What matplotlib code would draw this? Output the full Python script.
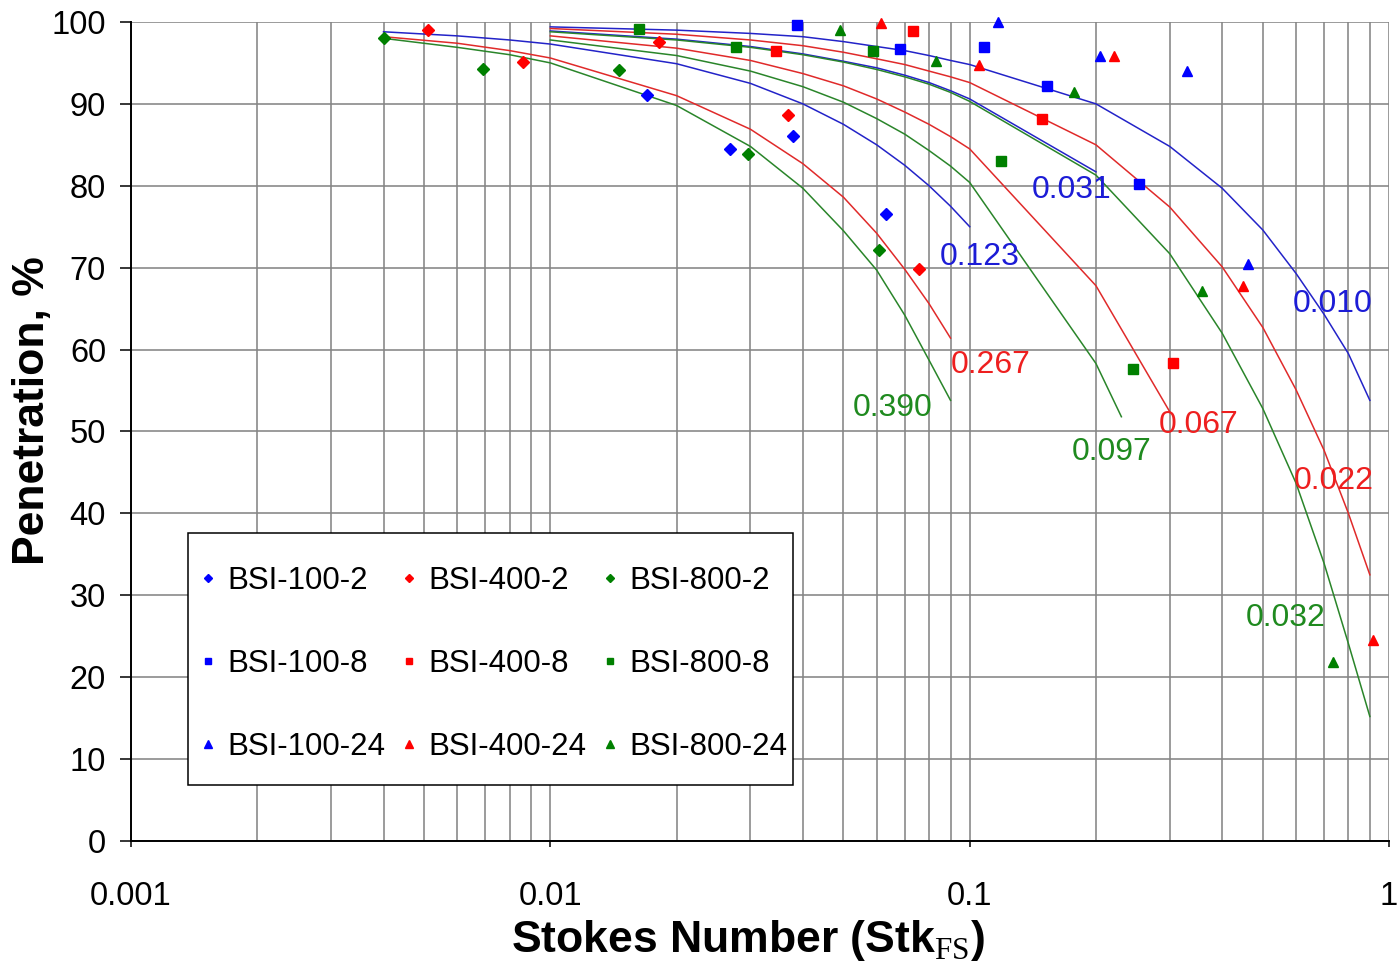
import matplotlib
matplotlib.use("Agg")
import matplotlib.pyplot as plt
from matplotlib.lines import Line2D
from matplotlib.patches import Rectangle
from matplotlib.ticker import NullFormatter, LogLocator

plt.rcParams["font.family"] = ["Liberation Sans", "DejaVu Sans"]
plt.rcParams["mathtext.fontset"] = "custom"
plt.rcParams["mathtext.rm"] = "Liberation Serif"

# ---- measured penetration (%) vs Stokes number ----
stk_100_2 = [0.0170, 0.0268, 0.0380, 0.0630]
pen_100_2 = [91.1, 84.5, 86.1, 76.6]
stk_400_2 = [0.0051, 0.0086, 0.0182, 0.0369, 0.0756]
pen_400_2 = [99.0, 95.1, 97.5, 88.6, 69.8]
stk_800_2 = [0.0040, 0.0069, 0.0146, 0.0296, 0.0607]
pen_800_2 = [98.0, 94.3, 94.1, 83.9, 72.1]

stk_100_8 = [0.0388, 0.0682, 0.108, 0.153, 0.254]
pen_100_8 = [99.6, 96.7, 96.9, 92.2, 80.2]
stk_400_8 = [0.0346, 0.0734, 0.149, 0.306]
pen_400_8 = [96.4, 98.9, 88.1, 58.3]
stk_800_8 = [0.0163, 0.0277, 0.0587, 0.119, 0.245]
pen_800_8 = [99.1, 96.9, 96.5, 83.0, 57.6]

stk_100_24 = [0.117, 0.205, 0.330, 0.461]
pen_100_24 = [100.0, 95.8, 94.0, 70.4]
stk_400_24 = [0.0615, 0.105, 0.221, 0.449, 0.918]
pen_400_24 = [99.9, 94.8, 95.8, 67.8, 24.6]
stk_800_24 = [0.049, 0.083, 0.177, 0.359, 0.736]
pen_800_24 = [99.0, 95.2, 91.4, 67.2, 21.8]

# ---- fitted curves ----
fit_x_short = [0.004, 0.006, 0.008, 0.01, 0.02, 0.03, 0.04, 0.05, 0.06, 0.07, 0.08, 0.09]
fit_x_0123 = fit_x_short + [0.1]
fit_p_0123 = [98.8, 98.3, 97.8, 97.3, 94.9, 92.5, 90.0, 87.5, 85.0, 82.5, 80.0, 77.5, 75.0]
fit_p_0267 = [98.2, 97.4, 96.5, 95.6, 91.0, 86.9, 82.7, 78.6, 74.2, 69.8, 65.6, 61.4]
fit_p_0390 = [98.0, 96.9, 96.0, 95.0, 89.8, 84.8, 79.7, 74.5, 69.7, 64.2, 58.7, 53.8]

fit_x_dec = [0.01, 0.02, 0.03, 0.04, 0.05, 0.06, 0.07, 0.08, 0.09, 0.1]
fit_x_long = fit_x_dec + [0.2, 0.3, 0.4, 0.5, 0.6, 0.7, 0.8, 0.9]
fit_p_0010 = [99.4, 99.0, 98.6, 98.2, 97.6, 97.0, 96.5, 95.9, 95.3, 94.8,
              90.0, 84.8, 79.7, 74.6, 69.3, 64.3, 59.5, 53.8]
fit_p_0022 = [99.2, 98.5, 97.8, 97.1, 96.3, 95.5, 94.8, 94.0, 93.3, 92.6,
              85.0, 77.4, 70.1, 62.7, 55.1, 47.7, 40.0, 32.5]
fit_p_0032 = [98.8, 97.8, 96.9, 96.0, 95.1, 94.2, 93.3, 92.4, 91.4, 90.3,
              81.3, 71.7, 62.0, 52.8, 43.7, 33.9, 24.1, 15.2]
fit_x_0031 = fit_x_dec + [0.2]
fit_p_0031 = [98.9, 97.9, 97.0, 96.1, 95.2, 94.4, 93.5, 92.6, 91.6, 90.6, 81.7]
fit_x_0067 = fit_x_dec + [0.2, 0.3]
fit_p_0067 = [98.3, 96.8, 95.3, 93.7, 92.2, 90.6, 89.0, 87.5, 86.0, 84.5, 67.8, 52.4]
fit_x_0097 = fit_x_dec + [0.2, 0.23]
fit_p_0097 = [97.8, 95.9, 94.0, 92.1, 90.2, 88.2, 86.3, 84.3, 82.4, 80.4, 58.3, 51.8]

fit_labels = ["0.123", "0.267", "0.390", "0.031", "0.067", "0.097", "0.010", "0.022", "0.032"]
label_x = [0.0848, 0.090, 0.0525, 0.1405, 0.2827, 0.1748, 0.5897, 0.594, 0.4549]
label_y = [71.3, 58.1, 52.9, 79.5, 50.8, 47.5, 65.6, 43.9, 27.2]

x_ticks = [0.001, 0.01, 0.1, 1]
x_tick_labels = ["0.001", "0.01", "0.1", "1"]
y_ticks = list(range(0, 101, 10))

# ---- colours ----
c_blue, c_red, c_green = "#0000ff", "#ff0000", "#008000"
l_blue, l_red, l_green = "#2323c8", "#e02a2a", "#2a852a"
t_blue, t_red, t_green = "#1c1cd6", "#ee1f1f", "#1f8a1f"

fig = plt.figure(figsize=(13.97, 9.67), dpi=100)
ax = fig.add_axes([0.0938, 0.1303, 0.9005, 0.8470])
ax.set_xscale("log")
ax.set_xlim(0.001, 1)
ax.set_ylim(0, 100)

# grid
ax.set_axisbelow(True)
ax.xaxis.set_minor_locator(LogLocator(base=10, subs=range(2, 10)))
ax.xaxis.set_minor_formatter(NullFormatter())
ax.grid(True, which="both", axis="x", color="#858585", lw=1.15)
ax.grid(True, which="major", axis="y", color="#858585", lw=1.15)

# fitted curves
lw = 1.1
ax.plot(fit_x_0123, fit_p_0123, color=l_blue, lw=lw, zorder=2)
ax.plot(fit_x_short, fit_p_0267, color=l_red, lw=lw, zorder=2)
ax.plot(fit_x_short, fit_p_0390, color=l_green, lw=lw, zorder=2)
ax.plot(fit_x_0031, fit_p_0031, color=l_blue, lw=lw, zorder=2)
ax.plot(fit_x_0067, fit_p_0067, color=l_red, lw=lw, zorder=2)
ax.plot(fit_x_0097, fit_p_0097, color=l_green, lw=lw, zorder=2)
ax.plot(fit_x_long, fit_p_0010, color=l_blue, lw=lw, zorder=2)
ax.plot(fit_x_long, fit_p_0022, color=l_red, lw=lw, zorder=2)
ax.plot(fit_x_long, fit_p_0032, color=l_green, lw=lw, zorder=2)

label_colors = [t_blue, t_red, t_green] * 3
for txt, lx, ly, col in zip(fit_labels, label_x, label_y, label_colors):
    ax.text(lx, ly, txt, color=col, fontsize=23, ha="left", va="center", zorder=3)

# measured points
series = [
    (stk_100_2, pen_100_2, "D", c_blue, "BSI-100-2"),
    (stk_100_8, pen_100_8, "s", c_blue, "BSI-100-8"),
    (stk_100_24, pen_100_24, "^", c_blue, "BSI-100-24"),
    (stk_400_2, pen_400_2, "D", c_red, "BSI-400-2"),
    (stk_400_8, pen_400_8, "s", c_red, "BSI-400-8"),
    (stk_400_24, pen_400_24, "^", c_red, "BSI-400-24"),
    (stk_800_2, pen_800_2, "D", c_green, "BSI-800-2"),
    (stk_800_8, pen_800_8, "s", c_green, "BSI-800-8"),
    (stk_800_24, pen_800_24, "^", c_green, "BSI-800-24"),
]
msize = {"D": 6.3, "s": 6.8, "^": 7.5}
handles = []
for xs, ys, mk, col, name in series:
    ax.plot(xs, ys, linestyle="none", marker=mk, ms=msize[mk], color=col,
            mec=col, zorder=4, clip_on=False)
    handles.append(Line2D([], [], linestyle="none", marker=mk, ms=msize[mk] * 0.72,
                          color=col, mec=col, label=name))

# legend box
ax.add_patch(Rectangle((0.0453, 0.0684), 0.4809, 0.3077, transform=ax.transAxes,
                       facecolor="white", edgecolor="black", lw=1.1, zorder=5))
leg = ax.legend(handles=handles, ncol=3, frameon=False, fontsize=22.5,
                loc="upper left", bbox_to_anchor=(0.0539, 0.3356),
                borderpad=0, borderaxespad=0, handlelength=0.6,
                handletextpad=0.3, columnspacing=0.48, labelspacing=1.7)
leg.set_zorder(6)

# axes styling
for side in ("top", "right"):
    ax.spines[side].set_visible(False)
for side in ("left", "bottom"):
    ax.spines[side].set_color("black")
    ax.spines[side].set_linewidth(1.4)
    ax.spines[side].set_zorder(3)

ax.set_yticks(y_ticks)
ax.set_xticks(x_ticks)
ax.set_xticklabels(x_tick_labels)
ax.tick_params(axis="y", which="major", length=8, width=1.1, pad=10, labelsize=23.5,
               direction="out")
ax.tick_params(axis="x", which="major", length=4, width=1.1, pad=25, labelsize=23.5,
               direction="out")
ax.tick_params(axis="x", which="minor", length=0)

ax.set_xlabel(r"Stokes Number (Stk$_{\mathrm{FS}}$)", fontsize=32, fontweight="bold")
ax.xaxis.set_label_coords(0.49, -0.121)
ax.xaxis.label.set_va("center")
ax.set_ylabel("Penetration, %", fontsize=32, fontweight="bold")
ax.yaxis.set_label_coords(-0.062, 0.526)

fig.savefig("out.png", dpi=100)
